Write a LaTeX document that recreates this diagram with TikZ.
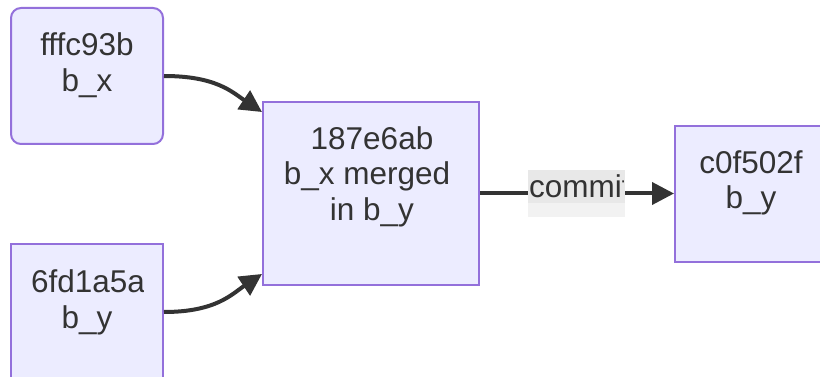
\documentclass[tikz,border=0pt]{standalone}
\usepackage{fontspec}
\setmainfont{Liberation Sans}[Ligatures=NoCommon]
\usetikzlibrary{arrows.meta}
\definecolor{nodefill}{HTML}{ECECFF}
\definecolor{nodeline}{HTML}{9370DB}
\definecolor{ink}{HTML}{333333}
\definecolor{lblbg}{HTML}{E8E8E8}
\definecolor{lblbg2}{HTML}{F2F2F2}
\tikzset{
  box/.style={draw=nodeline, fill=nodefill, line width=2pt, inner sep=0pt, minimum width=152pt},
  txt/.style={text=ink, inner sep=0pt, anchor=base, font=\fontsize{31.5}{36}\selectfont},
  edge/.style={draw=ink, line width=4pt, -{Triangle[length=22pt,width=22pt]}},
}
\begin{document}
\begin{tikzpicture}[x=1pt, y=-1pt]
\clip (0,0) rectangle (820,377);
\fill[white] (0,0) rectangle (820,377);
% boxes
\node[box, rounded corners=10pt, minimum height=136pt] (A) at (87,76) {};
\node[box, minimum height=136pt] (B) at (87,312) {};
\node[box, minimum width=216pt, minimum height=183pt] (C) at (371,193.5) {};
\node[box, minimum height=136pt] (D) at (751,194) {};
% texts
\node[txt] (A1) at (87,56) {fffc93b};
\node[txt] (A2) at (87,92) {b\_x};
\begin{scope}
\clip (0,244) rectangle (143,377);
\node[txt] (B1) at (88,292) {6fd1a5a};
\end{scope}
\node[txt] (B2) at (87,328) {b\_y};
\node[txt] (C1) at (372,150) {187e6ab};
\node[txt] (C2) at (367,185) {b\_x merged};
\node[txt] (C3) at (372,221) {in b\_y};
\node[txt] (D1) at (751,174) {c0f502f};
\node[txt] (D2) at (751,209) {b\_y};
% edges
\draw[edge] (A.east) .. controls +(52,0) and +(-30,-20) .. ([yshift=-11pt]C.north west);
\draw[edge] (B.east) .. controls +(52,0) and +(-30,20) .. ([yshift=12pt]C.south west);
\draw[edge] (C.east) -- (C.east -| D.west);
% edge label
\fill[lblbg2] (528,203) rectangle (625,217);
\fill[lblbg] (528,170) rectangle (625,203);
\begin{scope}
\clip (528,165) rectangle (623.5,220);
\node[txt, anchor=base west] (L) at (529,197) {commit};
\end{scope}
\end{tikzpicture}
\end{document}
